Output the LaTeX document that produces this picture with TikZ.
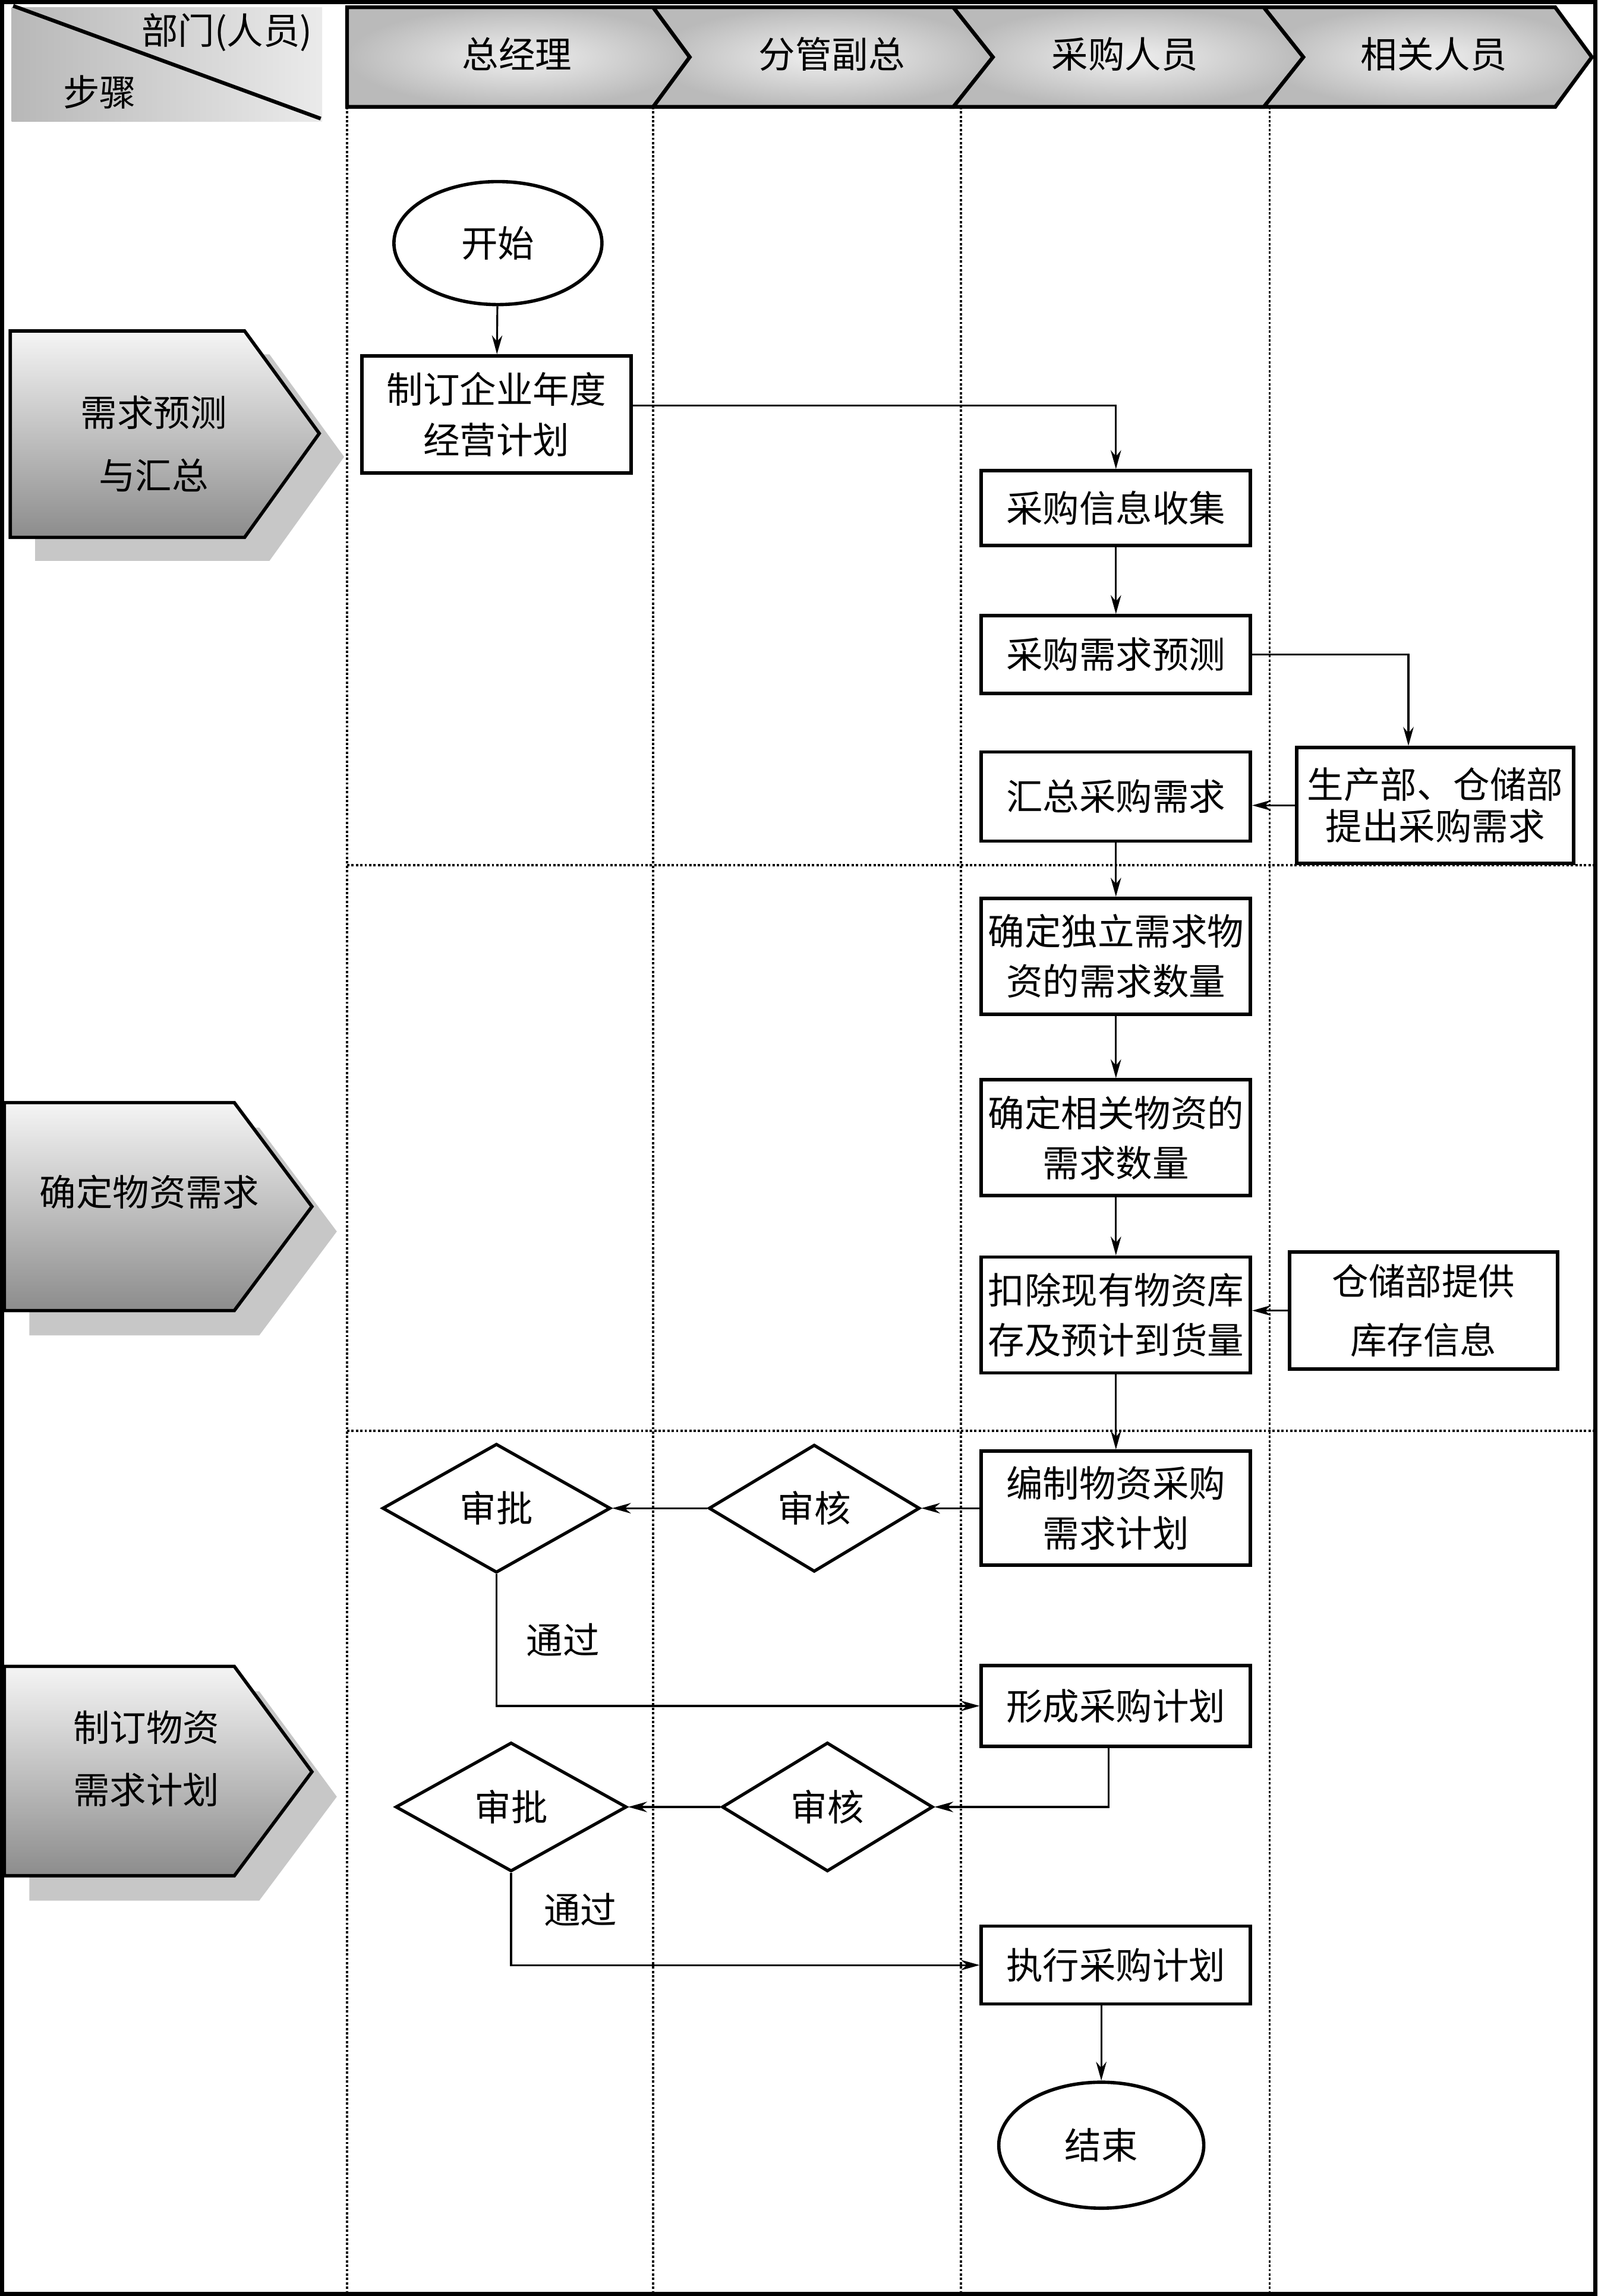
\documentclass[tikz,border=0pt]{standalone}
\usepackage{fontspec}
\setmainfont{Noto Sans CJK SC}
\usetikzlibrary{shapes.geometric, arrows.meta}

\tikzset{
  box/.style={draw, line width=1.6pt, minimum width=4.53cm, inner sep=1pt, align=center},
  decide/.style={diamond, draw, line width=1.5pt, inner sep=0pt, minimum width=3.55cm, minimum height=2.14cm},
  term/.style={ellipse, draw, line width=1.6pt, inner sep=0pt},
  arr/.style={-{Stealth[length=9pt,width=5pt]}, line width=0.9pt},
  lane/.style={densely dotted, line width=1.1pt},
  head/.style={draw, line width=1.8pt, shade, shading=radial, inner color=black!6, outer color=black!27},
  stage/.style={draw, line width=1.6pt, shade, top color=black!4, bottom color=black!45},
  stageshadow/.style={fill=black!22},
}

\begin{document}
\begin{tikzpicture}[x=0.02464cm, y=-0.02464cm, every node/.style={font=\fontsize{17.5}{24}\selectfont}]
    \useasboundingbox (0,0) rectangle (1091,1568);
    % 外框
    \draw[line width=2pt] (1.5,1.5) rectangle (1089.5,1566.5);

    % 左上角表头
    \shade[left color=black!28, right color=black!8] (8,5) rectangle (220,83);
    \draw[line width=1.8pt] (9,4) -- (219,81);
    \node (dept) at (155,22) {部门(人员)};
    \node (stepname) at (68,63) {步骤};

    % 部门表头
    \draw[head] (237,5) -- (446,5) -- (471,39) -- (446,73) -- (237,73) -- cycle;
    \draw[head] (446,5) -- (651,5) -- (678,39) -- (651,73) -- (446,73) -- (471,39) -- cycle;
    \draw[head] (651,5) -- (863,5) -- (890,39) -- (863,73) -- (651,73) -- (678,39) -- cycle;
    \draw[head] (863,5) -- (1062,5) -- (1087,39) -- (1062,73) -- (863,73) -- (890,39) -- cycle;
    \node (gm) at (353,37) {总经理};
    \node (vp) at (568,37) {分管副总};
    \node (buyer) at (768,37) {采购人员};
    \node (other) at (979,37) {相关人员};

    % 泳道分隔线
    \draw[lane] (237,73) -- (237,1566);
    \draw[lane] (446,73) -- (446,1566);
    \draw[lane] (656,73) -- (656,1566);
    \draw[lane] (867,73) -- (867,1566);
    \draw[lane] (237,591) -- (1089,591);
    \draw[lane] (237,977) -- (1089,977);

    % 步骤
    \fill[stageshadow] (24,242) -- (184,242) -- (235,312) -- (184,383) -- (24,383) -- cycle;
    \draw[stage] (7,226) -- (167,226) -- (218,296) -- (167,367) -- (7,367) -- cycle;
    \node[align=center] (step1) at (105,303) {需求预测\\[6pt]与汇总};

    \fill[stageshadow] (20,770) -- (177,770) -- (230,841) -- (177,912) -- (20,912) -- cycle;
    \draw[stage] (3,753) -- (160,753) -- (213,824) -- (160,895) -- (3,895) -- cycle;
    \node (step2) at (102,814) {确定物资需求};

    \fill[stageshadow] (20,1155) -- (177,1155) -- (230,1227) -- (177,1298) -- (20,1298) -- cycle;
    \draw[stage] (3,1138) -- (160,1138) -- (213,1210) -- (160,1281) -- (3,1281) -- cycle;
    \node[align=center] (step3) at (100,1201) {制订物资\\[6pt]需求计划};

    % 流程节点
    \node[term, minimum width=3.5cm, minimum height=2.07cm] (start) at (340,166) {开始};
    \node[box, minimum height=1.97cm] (plan) at (339,283) {制订企业年度\\经营计划};
    \node[box, minimum height=1.26cm] (collect) at (762,347) {采购信息收集};
    \node[box, minimum height=1.31cm] (forecast) at (762,447) {采购需求预测};
    \node[box, minimum height=1.5cm] (summary) at (762,544) {汇总采购需求};
    \node[box, minimum width=4.66cm, minimum height=1.95cm] (propose) at (980,550) {生产部、仓储部\\[-4pt]提出采购需求};
    \node[box, minimum height=1.95cm] (indep) at (762,653) {确定独立需求物\\资的需求数量};
    \node[box, minimum height=1.95cm] (related) at (762,777) {确定相关物资的\\需求数量};
    \node[box, minimum height=1.95cm] (deduct) at (762,898) {扣除现有物资库\\存及预计到货量};
    \node[box, minimum width=4.51cm, minimum height=1.97cm] (stockinfo) at (972,895) {仓储部提供\\[4pt]库存信息};
    \node[box, minimum height=1.92cm] (draft) at (762,1030) {编制物资采购\\需求计划};
    \node[decide] (check1) at (556,1030) {审核};
    \node[decide, minimum width=3.84cm, minimum height=2.17cm] (approve1) at (339,1030) {审批};
    \node[box, minimum height=1.36cm] (form) at (762,1165) {形成采购计划};
    \node[decide, minimum height=2.17cm] (check2) at (565,1234) {审核};
    \node[decide, minimum width=3.89cm, minimum height=2.17cm] (approve2) at (349,1234) {审批};
    \node[box, minimum height=1.31cm] (exec) at (762,1342) {执行采购计划};
    \node[term, minimum width=3.45cm, minimum height=2.12cm] (finish) at (752,1465) {结束};

    % 连接线
    \draw[arr] (start) -- (plan);
    \draw[arr] ([yshift=0.15cm]plan.east) -| (collect.north);
    \draw[arr] (collect) -- (forecast);
    \draw[arr] (forecast.east) -| ([xshift=-0.45cm]propose.north);
    \draw[arr] (propose.west) -- (summary.east |- propose.west);
    \draw[arr] (summary) -- (indep);
    \draw[arr] (indep) -- (related);
    \draw[arr] (related) -- (deduct);
    \draw[arr] (stockinfo.west) -- (deduct.east |- stockinfo.west);
    \draw[arr] (deduct) -- (draft);
    \draw[arr] (draft.west) -- (check1.east);
    \draw[arr] (check1.west) -- (approve1.east);
    \draw[arr] (approve1.south) |- (form.west) node[pos=0.25, right=0.37cm] (pass1) {通过};
    \draw[arr] ([xshift=-0.12cm]form.south) |- (check2.east);
    \draw[arr] (check2.west) -- (approve2.east);
    \draw[arr] (approve2.south) |- (exec.west) node[pos=0.2, right=0.42cm] (pass2) {通过};
    \draw[arr] (exec.south -| finish.north) -- (finish.north);
\end{tikzpicture}
\end{document}
